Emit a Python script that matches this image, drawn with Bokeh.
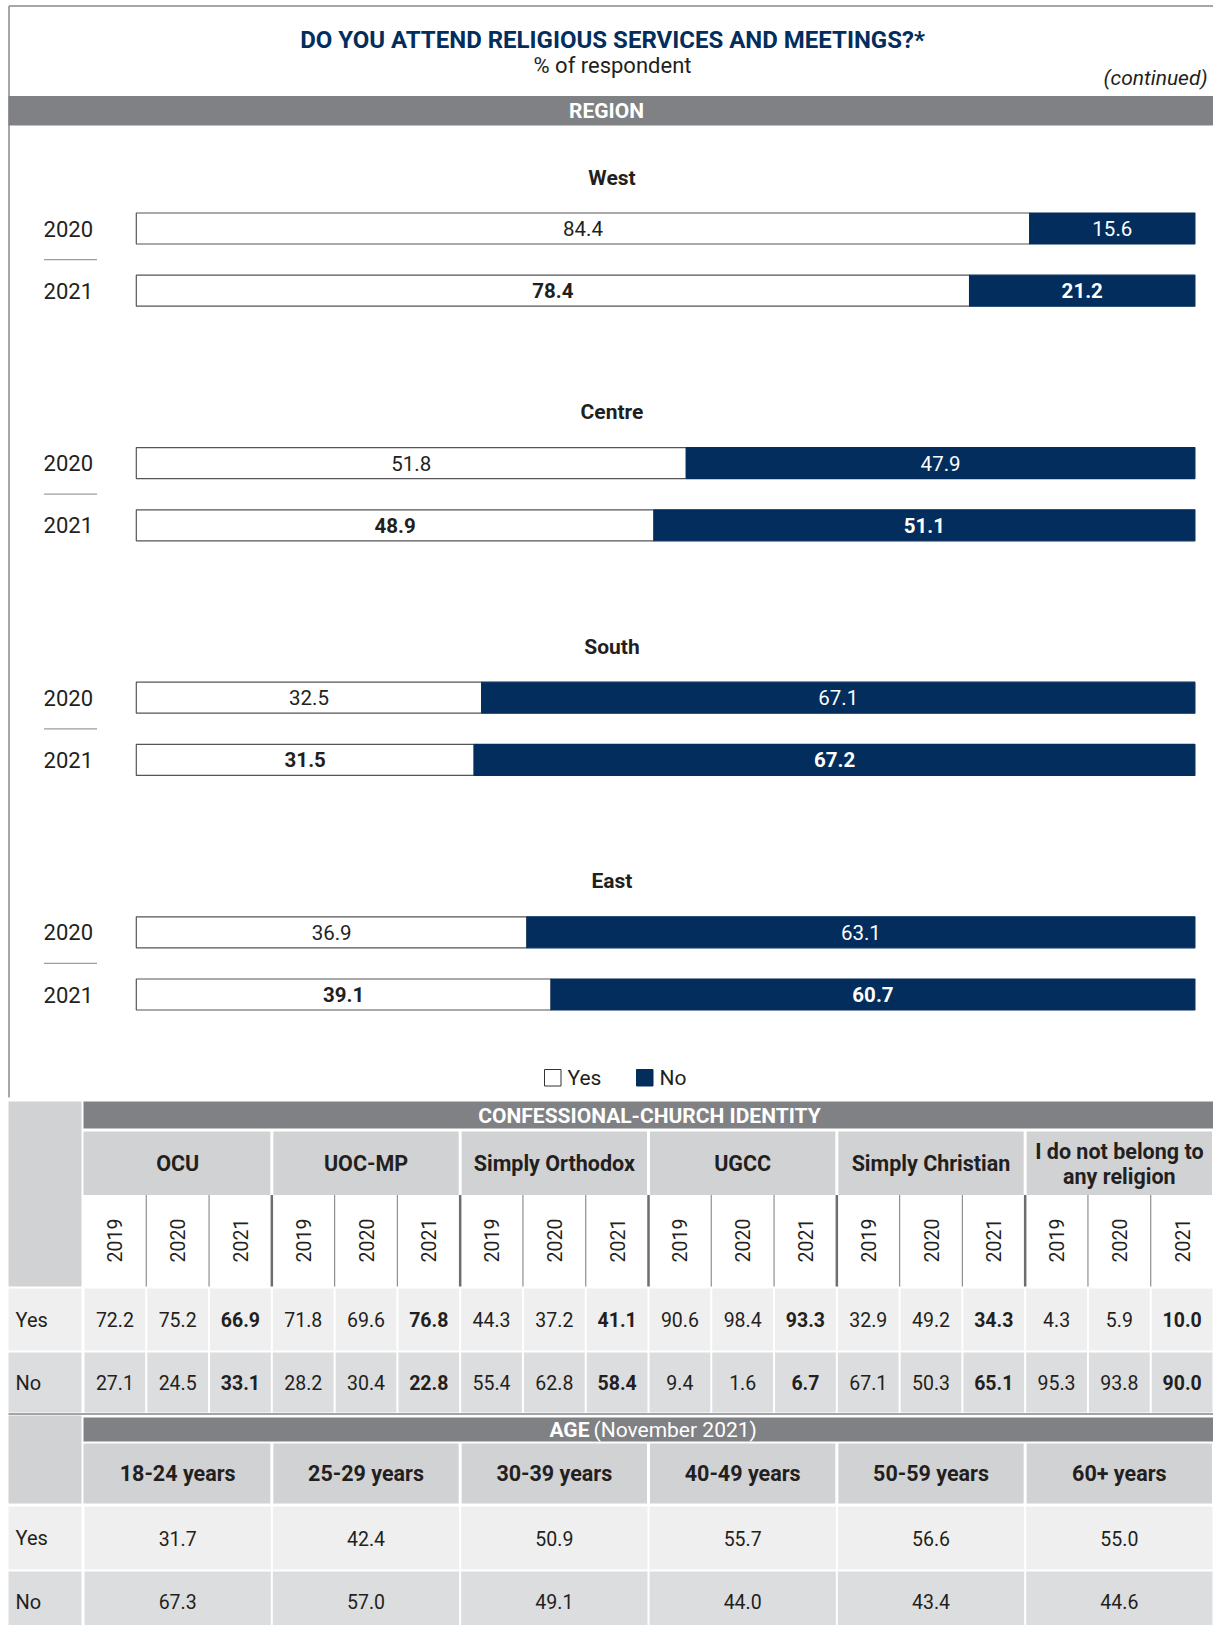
import math
from bokeh.plotting import figure
from bokeh.models import Range1d
from bokeh.core.properties import value
from bokeh.embed import file_html
from bokeh.resources import INLINE

# ---------------- data ----------------
title = "DO YOU ATTEND RELIGIOUS SERVICES AND MEETINGS?*"
subtitle = "% of respondent"
regions = ["West", "Centre", "South", "East"]
bar_years = ["2020", "2021"]
yes_2020 = [84.4, 51.8, 32.5, 36.9]
no_2020 = [15.6, 47.9, 67.1, 63.1]
yes_2021 = [78.4, 48.9, 31.5, 39.1]
no_2021 = [21.2, 51.1, 67.2, 60.7]
legend_labels = ["Yes", "No"]

conf_groups = ["OCU", "UOC-MP", "Simply Orthodox", "UGCC", "Simply Christian",
               "I do not belong to\nany religion"]
conf_years = ["2019", "2020", "2021"]
conf_yes = [72.2, 75.2, 66.9, 71.8, 69.6, 76.8, 44.3, 37.2, 41.1,
            90.6, 98.4, 93.3, 32.9, 49.2, 34.3, 4.3, 5.9, 10.0]
conf_no = [27.1, 24.5, 33.1, 28.2, 30.4, 22.8, 55.4, 62.8, 58.4,
           9.4, 1.6, 6.7, 67.1, 50.3, 65.1, 95.3, 93.8, 90.0]

age_groups = ["18-24 years", "25-29 years", "30-39 years", "40-49 years",
              "50-59 years", "60+ years"]
age_yes = [31.7, 42.4, 50.9, 55.7, 56.6, 55.0]
age_no = [67.3, 57.0, 49.1, 44.0, 43.4, 44.6]
row_labels = ["Yes", "No"]

# ---------------- style ----------------
NAVY = "#022d5c"
BAND = "#808184"
HEAD = "#d1d2d4"
ROW_YES = "#efefef"
ROW_NO = "#dcdddf"
TXT = "#231f20"
FONT = value("Roboto")

W, H = 1213, 1625
p = figure(width=W, height=H, x_range=Range1d(0, W), y_range=Range1d(H, 0),
           output_backend="svg", toolbar_location=None, min_border=0,
           x_axis_location=None, y_axis_location=None)
p.grid.visible = False
p.outline_line_color = None
p.background_fill_color = "white"
p.border_fill_color = "white"

# bar scale: 0..100 % mapped onto bar area
BX0, BX1 = 135.8, 1194.4
k = (BX1 - BX0) / 100.0
p.extra_x_ranges = {"pct": Range1d((0 - BX0) / k, (W - BX0) / k)}


def txt(x, y, t, size=20, color=TXT, align="center", style="normal", baseline="middle",
        angle=0, rng="default"):
    p.text(x=[x], y=[y], text=[t], text_font=FONT, text_font_size=f"{size}px",
           text_color=color, text_align=align, text_baseline=baseline,
           text_font_style=style, angle=angle, x_range_name=rng)


# page frame
p.segment(x0=[8.5, 8.5], y0=[5.5, 5.5], x1=[1213, 8.5], y1=[5.5, 1097], line_color="#8a8a8d", line_width=1.5)

# header
txt(612, 39, title, size=24, color=NAVY, style="bold")
txt(612, 65, subtitle, size=22)
txt(1207, 77, "(continued)", size=21, align="right", style="italic")
p.quad(left=[8], right=[1213], top=[95.5], bottom=[125], fill_color=BAND, line_color=None)
txt(606, 110.5, "REGION", size=21, color="white", style="bold")

# ---------------- bars ----------------
G0, GSTEP, BH, YSTEP = 212.5, 234.6, 31, 62.2
for i, reg in enumerate(regions):
    txt(611.5, 177 + i * GSTEP, reg, size=21, style="bold")
    for j, (yv, nv) in enumerate([(yes_2020[i], no_2020[i]), (yes_2021[i], no_2021[i])]):
        top = G0 + i * GSTEP + j * YSTEP
        bot = top + BH
        share = yv / (yv + nv) * 100
        p.quad(left=[0], right=[share], top=[top], bottom=[bot], fill_color="white",
               line_color="#555558", line_width=1.2, x_range_name="pct")
        p.quad(left=[share], right=[100], top=[top], bottom=[bot], fill_color=NAVY,
               line_color=NAVY, line_width=1.2, x_range_name="pct")
        st = "bold" if j == 1 else "normal"
        txt(share / 2, (top + bot) / 2, f"{yv:.1f}", size=20.5, style=st, rng="pct")
        txt((share + 100) / 2, (top + bot) / 2, f"{nv:.1f}", size=20.5, color="white",
            style=st, rng="pct")
        txt(92.5, (top + bot) / 2, bar_years[j], size=22, align="right")
    sep = G0 + i * GSTEP + BH + (YSTEP - BH) / 2
    p.segment(x0=[43.5], y0=[sep], x1=[96.5], y1=[sep], line_color="#9d9d9f", line_width=1.2)

# legend
LX = [544, 636]
for n, lab in enumerate(legend_labels):
    p.quad(left=[LX[n]], right=[LX[n] + 16.5], top=[1069], bottom=[1085.5],
           fill_color="white" if n == 0 else NAVY,
           line_color="#333333" if n == 0 else NAVY, line_width=1)
    txt(LX[n] + 23, 1077.5, lab, size=21, align="left")

# ---------------- confessional table ----------------
TX0, TX1 = 83, 1213
GW = (TX1 - TX0) / 6
SW = GW / 3
p.quad(left=[TX0], right=[TX1], top=[1101], bottom=[1128], fill_color=BAND, line_color=None)
txt(649, 1115, "CONFESSIONAL-CHURCH IDENTITY", size=21, color="white", style="bold")
p.quad(left=[8], right=[81], top=[1101], bottom=[1286], fill_color=HEAD, line_color=None)

for g, name in enumerate(conf_groups):
    gl = TX0 + g * GW
    p.quad(left=[gl + (1.5 if g else 0)], right=[gl + GW - 1.5], top=[1131], bottom=[1194.5],
           fill_color=HEAD, line_color=None)
    lines = name.split("\n")
    if len(lines) == 1:
        txt(gl + GW / 2, 1163, lines[0], size=21.5, style="bold")
    else:
        for li, ln in enumerate(lines):
            txt(gl + GW / 2, 1151 + li * 24.5, ln, size=21.5, style="bold")
    for s, yr in enumerate(conf_years):
        cx = gl + s * SW
        if s == 0 and g > 0:
            p.segment(x0=[cx], y0=[1194.5], x1=[cx], y1=[1286], line_color="#6d6e71", line_width=2.5)
        elif s > 0:
            p.segment(x0=[cx], y0=[1194.5], x1=[cx], y1=[1286], line_color="#8f9093", line_width=1.2)
        txt(cx + SW / 2, 1240, yr, size=19.5, angle=math.pi / 2)

ROWS1 = [(1288, 1350), (1352, 1412)]
for r, (vals, col) in enumerate([(conf_yes, ROW_YES), (conf_no, ROW_NO)]):
    t, b = ROWS1[r]
    p.quad(left=[8], right=[81], top=[t], bottom=[b], fill_color=col, line_color=None)
    txt(15, (t + b) / 2, row_labels[r], size=20, align="left")
    for c, v in enumerate(vals):
        cl = TX0 + c * SW
        p.quad(left=[cl + 1], right=[cl + SW - 1], top=[t], bottom=[b], fill_color=col, line_color=None)
        st = "bold" if c % 3 == 2 else "normal"
        txt(cl + SW / 2, (t + b) / 2, f"{v:.1f}", size=19.5, style=st)

p.segment(x0=[8], y0=[1413.5], x1=[1213], y1=[1413.5], line_color="#a3a4a6", line_width=2)

# ---------------- age table ----------------
p.quad(left=[TX0], right=[TX1], top=[1417], bottom=[1441], fill_color=BAND, line_color=None)
txt(589, 1429.5, "AGE", size=21, color="white", style="bold", align="right")
txt(593, 1429.5, "(November 2021)", size=21, color="white", align="left")
p.quad(left=[8], right=[81], top=[1415], bottom=[1503], fill_color=HEAD, line_color=None)
for g, name in enumerate(age_groups):
    gl = TX0 + g * GW
    p.quad(left=[gl + (1.5 if g else 0)], right=[gl + GW - 1.5], top=[1443], bottom=[1503],
           fill_color=HEAD, line_color=None)
    txt(gl + GW / 2, 1473, name, size=21.5, style="bold")

ROWS2 = [(1506, 1569), (1571, 1630)]
for r, (vals, col) in enumerate([(age_yes, ROW_YES), (age_no, ROW_NO)]):
    t, b = ROWS2[r]
    p.quad(left=[8], right=[81], top=[t], bottom=[b], fill_color=col, line_color=None)
    ty = (t + b) / 2 if r == 0 else 1601
    txt(15, ty, row_labels[r], size=20, align="left")
    for c, v in enumerate(vals):
        cl = TX0 + c * GW
        p.quad(left=[cl + 1], right=[cl + GW - 1], top=[t], bottom=[b], fill_color=col, line_color=None)
        txt(cl + GW / 2, ty, f"{v:.1f}", size=19.5)

open("out.html", "w").write(file_html(p, INLINE))
